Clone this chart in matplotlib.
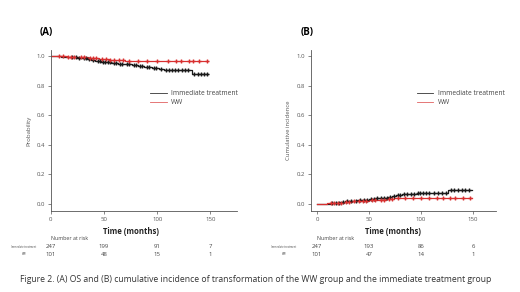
import matplotlib
matplotlib.use("Agg")
import matplotlib.pyplot as plt
from matplotlib.lines import Line2D

W, H = 520, 292

# Panel A - overall survival (Kaplan-Meier steps)
os_it_t = [0, 10, 18, 25, 30, 34, 38, 42, 47, 52, 57, 63, 70, 76, 82, 88, 95, 102, 106, 133, 148]
os_it_s = [1.0, 0.996, 0.992, 0.988, 0.984, 0.978, 0.972, 0.966, 0.962, 0.957, 0.953, 0.948,
           0.943, 0.938, 0.933, 0.928, 0.920, 0.912, 0.903, 0.880, 0.880]
os_it_cens = [20, 24, 27, 31, 33, 36, 40, 44, 46, 49, 51, 54, 56, 59, 61, 65, 67, 72, 74, 78,
              80, 84, 86, 90, 92, 97, 99, 104, 108, 111, 114, 117, 120, 123, 126, 129,
              135, 138, 141, 144, 147]
os_ww_t = [0, 15, 25, 35, 45, 55, 62, 70, 148]
os_ww_s = [1.0, 0.995, 0.990, 0.985, 0.980, 0.975, 0.970, 0.963, 0.963]
os_ww_cens = [8, 12, 16, 19, 22, 28, 31, 37, 40, 43, 48, 52, 56, 59, 64, 68, 74, 82, 90,
              100, 110, 118, 122, 130, 134, 139, 147]

# Panel B - cumulative incidence of transformation
ci_it_t = [0, 12, 17, 22, 27, 32, 38, 44, 50, 56, 62, 68, 72, 76, 82, 88, 96, 126, 149]
ci_it_v = [0, 0.005, 0.010, 0.014, 0.018, 0.022, 0.026, 0.030, 0.034, 0.038, 0.042, 0.046,
           0.052, 0.060, 0.065, 0.070, 0.075, 0.097, 0.097]
ci_it_cens = [14, 18, 21, 25, 29, 33, 37, 41, 45, 48, 52, 55, 58, 61, 64, 67, 70, 74, 78,
              80, 84, 86, 90, 93, 97, 99, 102, 105, 108, 112, 116, 120, 124, 129, 132,
              135, 139, 142, 146]
ci_ww_t = [0, 10, 18, 26, 34, 42, 50, 58, 66, 74, 149]
ci_ww_v = [0, 0.005, 0.010, 0.014, 0.018, 0.022, 0.026, 0.030, 0.034, 0.040, 0.040]
ci_ww_cens = [13, 16, 20, 23, 28, 31, 36, 40, 44, 47, 53, 56, 61, 64, 69, 72, 78, 85, 92,
              100, 108, 115, 121, 128, 133, 140, 147]

# Numbers at risk
risk_times = [0, 50, 100, 150]
risk_a_it = [247, 199, 91, 7]
risk_a_ww = [101, 48, 15, 1]
risk_b_it = [247, 193, 86, 6]
risk_b_ww = [101, 47, 14, 1]

group_names = ["Immediate treatment", "WW"]
caption = ("Figure 2. (A) OS and (B) cumulative incidence of transformation of the WW group "
           "and the immediate treatment group")

BLACK = "#1a1a1a"
RED = "#d83030"
AXC = "#555555"

plt.rcParams['font.family'] = ['Open Sans', 'DejaVu Sans']

fig = plt.figure(figsize=(W / 100, H / 100), dpi=100)
fig.patch.set_facecolor("white")


def fx(x):
    return x / W


def fy(y):
    return 1 - y / H


def make_axes(left, right, top, bottom, xlim, label_x):
    ax = fig.add_axes([fx(left), fy(bottom), fx(right - left), (bottom - top) / H])
    ax.set_xlim(*xlim)
    ax.set_ylim(-0.047, 1.04)
    for s in ["top", "right"]:
        ax.spines[s].set_visible(False)
    for s in ["left", "bottom"]:
        ax.spines[s].set_color(AXC)
        ax.spines[s].set_linewidth(0.6)
    ax.set_xticks(risk_times)
    ax.set_yticks([0, 0.2, 0.4, 0.6, 0.8, 1.0])
    ax.set_yticklabels(["0.0", "0.2", "0.4", "0.6", "0.8", "1.0"])
    ax.tick_params(labelsize=4.3, colors=AXC, length=2, width=0.5, pad=2)
    ax.set_xlabel("Time (months)", fontsize=5.6, fontweight="bold", color="#222222")
    ax.xaxis.set_label_coords(label_x, -0.1)
    return ax


def step_with_cens(ax, t, v, cens, color, lw=0.9):
    ax.step(t, v, where="post", color=color, lw=lw, zorder=2)
    # censor marks placed on the curve
    cy = []
    for c in cens:
        val = v[0]
        for ti, vi in zip(t, v):
            if ti <= c:
                val = vi
        cy.append(val)
    ax.plot(cens, cy, ls="none", marker="+", ms=3.5, mew=1.0, color=color, zorder=3)


# Panel A
axA = make_axes(50.7, 237, 50, 211, (0, 175), 0.43)
axA.set_ylabel("Probability", fontsize=4.3, color=AXC, labelpad=4)
step_with_cens(axA, os_it_t, os_it_s, os_it_cens, BLACK)
step_with_cens(axA, os_ww_t, os_ww_s, os_ww_cens, RED)

# Panel B
axB = make_axes(311, 496, 50, 211, (-5.8, 172), 0.443)
axB.set_ylabel("Cumulative incidence", fontsize=4.3, color=AXC, labelpad=4)
step_with_cens(axB, ci_it_t, ci_it_v, ci_it_cens, BLACK)
step_with_cens(axB, ci_ww_t, ci_ww_v, ci_ww_cens, RED)

# panel letters
fig.text(fx(46), fy(32), "(A)", fontsize=7, fontweight="bold", ha="center", va="center")
fig.text(fx(307), fy(32), "(B)", fontsize=7, fontweight="bold", ha="center", va="center")

# legends
for x0, x1, xt in [(150, 167, 171), (417, 433, 438)]:
    fig.add_artist(Line2D([fx(x0), fx(x1)], [fy(93), fy(93)], color="#333333", lw=0.6))
    fig.add_artist(Line2D([fx(x0), fx(x1)], [fy(102), fy(102)], color="#e06060", lw=0.6))
    fig.text(fx(xt), fy(93), group_names[0], fontsize=4.8, color="#444444", va="center")
    fig.text(fx(xt), fy(102), group_names[1], fontsize=4.8, color="#444444", va="center")

# numbers at risk
for ax, x_lab, r_it, r_ww in [(axA, 24, risk_a_it, risk_a_ww), (axB, 284, risk_b_it, risk_b_ww)]:
    x_left = ax.transData.transform((0, 0))[0] / (W)
    fig.text(x_left, fy(239), "Number at risk", fontsize=3.8, color="#444444", va="center")
    fig.text(fx(x_lab), fy(247), group_names[0], fontsize=1.8, color="#444444",
             ha="center", va="center")
    fig.text(fx(x_lab), fy(254), group_names[1], fontsize=1.8, color="#444444",
             ha="center", va="center")
    for t, a, b in zip(risk_times, r_it, r_ww):
        xf = ax.transData.transform((t, 0))[0] / W
        fig.text(xf, fy(247), str(a), fontsize=4.3, color="#444444", ha="center", va="center")
        fig.text(xf, fy(254), str(b), fontsize=4.3, color="#444444", ha="center", va="center")

fig.text(fx(20), fy(280), caption, fontsize=6.2, color="#333333", va="center")

fig.savefig("out.png", dpi=100, facecolor="white")
